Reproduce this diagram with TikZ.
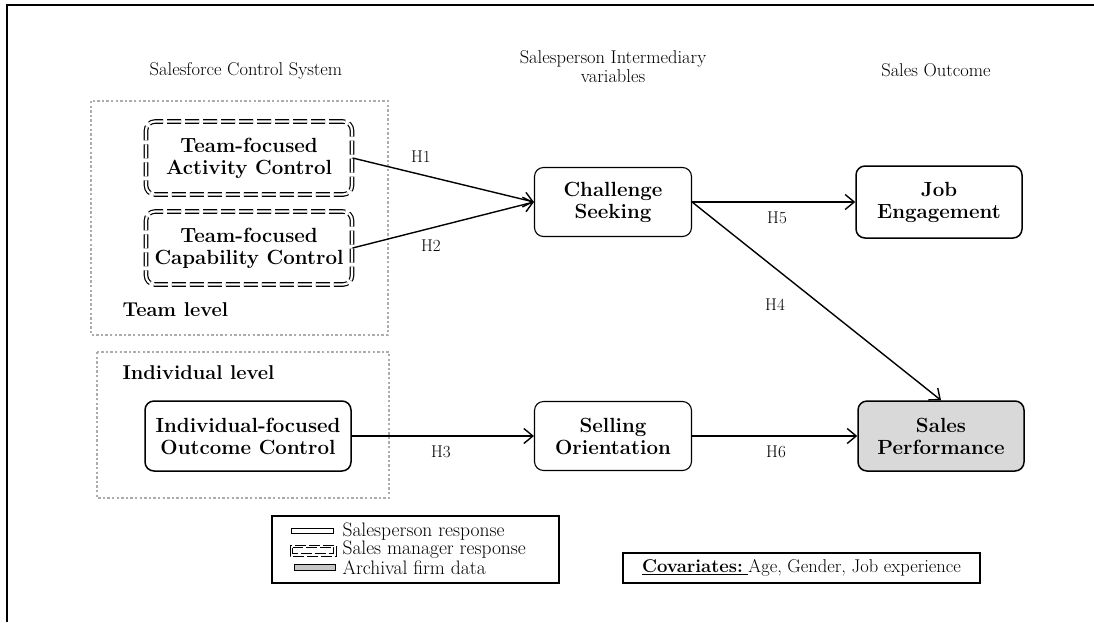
\documentclass[tikz,border=0pt]{standalone}
\usetikzlibrary{arrows.meta}

\tikzset{
  headtext/.style={align=center, font=\fontsize{18.5}{19}\selectfont},
  leveltext/.style={anchor=west, font=\fontsize{20}{22}\selectfont\bfseries},
  solidbox/.style={draw, rounded corners=9pt, line width=1.5pt, align=center,
    inner sep=0pt, font=\fontsize{20.5}{22}\selectfont\bfseries},
  managerbox/.style={solidbox, double, double distance=2.2pt, line width=1.2pt,
    dash pattern=on 14pt off 4pt},
  levelbox/.style={draw=gray!65, line width=2.6pt, dash pattern=on 2.4pt off 2.2pt},
  hyp/.style={-{Straight Barb[length=9pt,width=15pt,line width=1.4pt]}, line width=1.4pt},
  hlabel/.style={font=\fontsize{17}{18}\selectfont},
  legendtext/.style={anchor=west, font=\fontsize{19.5}{19}\selectfont},
  minidash/.style={line width=0.9pt, dash pattern=on 11pt off 3pt}
}

\begin{document}
\begin{tikzpicture}[x=1pt, y=-1pt]

    % 1. frame of the page (only top and left edges are visible)
    \useasboundingbox (0,0) rectangle (1094,622);
    \draw[line width=2pt] (7,622) -- (7,5) -- (1094,5);

    % 2. column headings
    \node[headtext] (hsys) at (246,71) {Salesforce Control System};
    \node[headtext] (hmed) at (613,67) {Salesperson Intermediary\\variables};
    \node[headtext] (hout) at (936,70) {Sales Outcome};

    % 3. team level and individual level boxes
    \draw[levelbox] (91,101) rectangle (388,335);
    \node[leveltext] (tlevel) at (119,310) {Team level};
    \draw[levelbox] (97,352) rectangle (389,498);
    \node[leveltext] (ilevel) at (119,373) {Individual level};

    % 4. constructs
    \node[managerbox, minimum width=206pt, minimum height=73pt] (act) at (249,158)
      {Team-focused\\Activity Control};
    \node[managerbox, minimum width=206pt, minimum height=73pt] (cap) at (249,248)
      {Team-focused\\Capability Control};
    \node[solidbox, minimum width=206pt, minimum height=70pt] (outc) at (248,436)
      {Individual-focused\\Outcome Control};
    \node[solidbox, line width=1.1pt, minimum width=157pt, minimum height=69pt] (cs) at (613,202)
      {Challenge\\Seeking};
    \node[solidbox, line width=1.1pt, minimum width=157pt, minimum height=69pt] (so) at (613,436)
      {Selling\\Orientation};
    \node[solidbox, minimum width=166pt, minimum height=72pt] (je) at (939,202)
      {Job\\Engagement};
    \node[solidbox, fill=gray!30, minimum width=166pt, minimum height=70pt] (sp) at (941,436)
      {Sales\\Performance};

    % 5. hypotheses
    \draw[hyp] (act.east) -- (cs.west);
    \draw[hyp] (cap.east) -- (cs.west);
    \draw[hyp] (outc.east) -- (so.west);
    \draw[hyp] (cs.east) -- (je.west);
    \draw[hyp] (cs.east) -- (sp.north);
    \draw[hyp] (so.east) -- (sp.west);

    \node[hlabel] (h1) at (421,157) {H1};
    \node[hlabel] (h2) at (431,246) {H2};
    \node[hlabel] (h3) at (441,452) {H3};
    \node[hlabel] (h4) at (775,305) {H4};
    \node[hlabel] (h5) at (777,218) {H5};
    \node[hlabel] (h6) at (776,452) {H6};

    % 6. legend
    \node[draw, line width=1.4pt, minimum width=287pt, minimum height=67pt] (legend) at (415.5,549.5) {};
    \draw[line width=0.9pt] (291,528) rectangle (333,533);
    \draw[minidash] (290,545) rectangle (336,556);
    \draw[minidash] (292.5,547.5) rectangle (333.5,553.5);
    \draw[line width=0.9pt, fill=gray!45] (294,564) rectangle (335,570);
    \node[legendtext] (lsp) at (339,532) {Salesperson response};
    \node[legendtext] (lsm) at (339,550) {Sales manager response};
    \node[legendtext] (laf) at (339,568) {Archival firm data};

    % 7. covariates
    \node[draw, line width=1.4pt, minimum width=357pt, minimum height=30pt,
      font=\fontsize{18.5}{19}\selectfont] (cov) at (801.5,568)
      {\underline{\textbf{Covariates:}\ }Age, Gender, Job experience};

  \end{tikzpicture}
\end{document}
